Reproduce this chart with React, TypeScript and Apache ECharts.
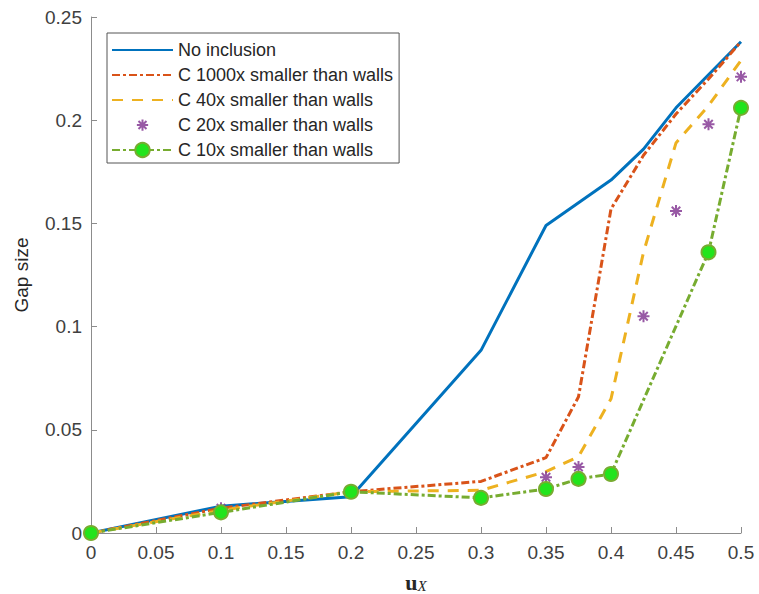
import React, { useEffect, useRef } from "react";
import * as echarts from "echarts";

// ---- data ----
const seriesNames = [
  "No inclusion",
  "C 1000x smaller than walls",
  "C 40x smaller than walls",
  "C 20x smaller than walls",
  "C 10x smaller than walls",
];

const xNoInclusion = [0, 0.1, 0.2, 0.3, 0.35, 0.4, 0.425, 0.45, 0.475, 0.5];
const yNoInclusion = [0, 0.013, 0.0176, 0.0885, 0.149, 0.171, 0.186, 0.206, 0.222, 0.238];

const xC1000 = [0, 0.1, 0.2, 0.3, 0.35, 0.375, 0.4, 0.425, 0.45, 0.475, 0.5];
const yC1000 = [0, 0.012, 0.02, 0.025, 0.0365, 0.066, 0.157, 0.183, 0.203, 0.22, 0.238];

const xC40 = [0, 0.1, 0.2, 0.3, 0.35, 0.375, 0.4, 0.425, 0.45, 0.475, 0.5];
const yC40 = [0, 0.011, 0.02, 0.0207, 0.0297, 0.037, 0.065, 0.136, 0.189, 0.207, 0.229];

const xC20 = [0, 0.1, 0.2, 0.3, 0.35, 0.375, 0.4, 0.425, 0.45, 0.475, 0.5];
const yC20 = [0, 0.012, 0.02, 0.0175, 0.027, 0.032, 0.0285, 0.105, 0.156, 0.198, 0.221];

const xC10 = [0, 0.1, 0.2, 0.3, 0.35, 0.375, 0.4, 0.475, 0.5];
const yC10 = [0, 0.01, 0.02, 0.017, 0.0213, 0.0262, 0.0286, 0.136, 0.206];

const xMin = 0;
const xMax = 0.5;
const xInterval = 0.05;
const yMin = 0;
const yMax = 0.25;
const yInterval = 0.05;

const pair = (xs: number[], ys: number[]) => xs.map((x, i) => [x, ys[i]]);

const FONT = "'Liberation Sans', Arial, Helvetica, sans-serif";
const AXIS_COLOR = "#8c8c8c";
const LABEL_COLOR = "#404040";
const TEXT_COLOR = "#262626";

const STAR = "path://M0,-5L0,5M-5,0L5,0M-3.54,-3.54L3.54,3.54M-3.54,3.54L3.54,-3.54";
const STAR_LEGEND = "path://M-8,-8M0,-5L0,5M-5,0L5,0M-3.54,-3.54L3.54,3.54M-3.54,3.54L3.54,-3.54M8,8";

export default function App() {
  const ref = useRef<HTMLDivElement>(null);

  useEffect(() => {
    if (!ref.current) return;
    const chart = echarts.init(ref.current, null, { renderer: "svg" });
    chart.setOption({
      animation: false,
      backgroundColor: "#ffffff",
      grid: {
        left: 91,
        right: 18,
        top: 17,
        bottom: 61,
        containLabel: false,
        outerBoundsMode: "none",
      },
      xAxis: {
        type: "value",
        min: xMin,
        max: xMax,
        interval: xInterval,
        axisLine: { show: true, onZero: false, lineStyle: { color: AXIS_COLOR, width: 1 } },
        axisTick: { show: true, inside: true, length: 6, lineStyle: { color: AXIS_COLOR } },
        axisLabel: { margin: 10, color: LABEL_COLOR, fontSize: 19, fontFamily: FONT },
        splitLine: { show: false },
        name: "{u|u}{x|X}",
        nameLocation: "middle",
        nameGap: 38,
        nameTextStyle: {
          rich: {
            u: {
              fontFamily: "'Liberation Serif', serif",
              fontWeight: "bold",
              fontSize: 22,
              lineHeight: 22,
              color: TEXT_COLOR,
            },
            x: {
              fontFamily: "'Liberation Serif', serif",
              fontStyle: "italic",
              fontSize: 15,
              lineHeight: 15,
              color: TEXT_COLOR,
              padding: [8, 0, 0, 0],
            },
          },
        },
      },
      yAxis: {
        type: "value",
        min: yMin,
        max: yMax,
        interval: yInterval,
        axisLine: { show: true, onZero: false, lineStyle: { color: AXIS_COLOR, width: 1 } },
        axisTick: { show: true, inside: true, length: 6, lineStyle: { color: AXIS_COLOR } },
        axisLabel: { margin: 9, color: LABEL_COLOR, fontSize: 19, fontFamily: FONT },
        splitLine: { show: false },
        name: "Gap size",
        nameLocation: "middle",
        nameGap: 60,
        nameTextStyle: { fontSize: 19, fontFamily: FONT, color: TEXT_COLOR },
      },
      legend: {
        orient: "vertical",
        left: 107,
        top: 33,
        padding: [7, 6, 3, 4],
        itemWidth: 61,
        itemHeight: 18,
        itemGap: 5,
        borderColor: "#555555",
        borderWidth: 1,
        backgroundColor: "#ffffff",
        textStyle: { fontSize: 18, color: TEXT_COLOR, fontFamily: FONT, lineHeight: 20 },
        data: [
          { name: seriesNames[0], itemStyle: { opacity: 0 } },
          { name: seriesNames[1], itemStyle: { opacity: 0 } },
          { name: seriesNames[2], itemStyle: { opacity: 0 } },
          { name: seriesNames[3], icon: STAR_LEGEND },
          { name: seriesNames[4] },
        ],
      },
      series: [
        {
          name: seriesNames[0],
          type: "line",
          z: 1,
          data: pair(xNoInclusion, yNoInclusion),
          symbol: "none",
          color: "#0072BD",
          lineStyle: { color: "#0072BD", width: 3 },
        },
        {
          name: seriesNames[1],
          type: "line",
          z: 2,
          data: pair(xC1000, yC1000),
          symbol: "none",
          color: "#D95319",
          lineStyle: { color: "#D95319", width: 3, type: [8, 3, 3, 3] },
        },
        {
          name: seriesNames[2],
          type: "line",
          z: 3,
          data: pair(xC40, yC40),
          symbol: "none",
          color: "#EDB120",
          lineStyle: { color: "#EDB120", width: 3, type: [11, 9] },
        },
        {
          name: seriesNames[3],
          type: "scatter",
          z: 4,
          data: pair(xC20, yC20),
          symbol: STAR,
          symbolSize: 12,
          itemStyle: { color: "rgba(0,0,0,0)", borderColor: "#7E2F8E", borderWidth: 2 },
        },
        {
          name: seriesNames[4],
          type: "line",
          z: 5,
          data: pair(xC10, yC10),
          symbol: "circle",
          symbolSize: 14,
          showAllSymbol: true,
          color: "#22e41c",
          itemStyle: { color: "#22e41c", borderColor: "#77AC30", borderWidth: 2 },
          lineStyle: { color: "#77AC30", width: 3, type: [8, 3, 3, 3] },
        },
      ],
    });
    return () => chart.dispose();
  }, []);

  return (
    <div
      ref={ref}
      style={{ position: "absolute", left: 0, top: 0, width: 759, height: 594 }}
    />
  );
}
